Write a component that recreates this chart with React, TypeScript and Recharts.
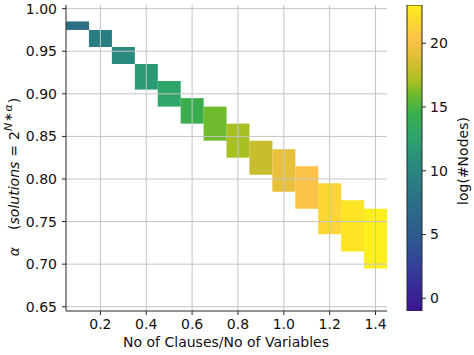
import React from 'react';
import {
  ComposedChart,
  Bar,
  XAxis,
  YAxis,
  Cell,
  ReferenceLine,
} from 'recharts';

// Clause/variable ratio (column centres)
const ratios = [0.1, 0.2, 0.3, 0.4, 0.5, 0.6, 0.7, 0.8, 0.9, 1.0, 1.1, 1.2, 1.3, 1.4];
// alpha range covered in each column
const alphaLow = [0.975, 0.955, 0.935, 0.905, 0.885, 0.865, 0.845, 0.825, 0.805, 0.785, 0.765, 0.735, 0.715, 0.695];
const alphaHigh = [0.985, 0.975, 0.955, 0.935, 0.915, 0.895, 0.885, 0.865, 0.845, 0.835, 0.815, 0.795, 0.775, 0.765];
// log(#Nodes) for each column
const logNodes = [7.5, 9, 10.5, 11.8, 12.8, 14.5, 16, 17, 18, 19.3, 20.3, 21.5, 22.5, 23];

const xTicks = [0.2, 0.4, 0.6, 0.8, 1.0, 1.2, 1.4];
const yTicks = [0.65, 0.7, 0.75, 0.8, 0.85, 0.9, 0.95, 1.0];
const cbTicks = [0, 5, 10, 15, 20];

const CB_MIN = -1;
const CB_MAX = 23;

// colormap stops: [value, colour]
const COLOR_STOPS: [number, string][] = [
  [-1, '#3c1592'],
  [2, '#35399a'],
  [5, '#2d5c8f'],
  [7.5, '#2b6f86'],
  [9, '#2b7d84'],
  [10.5, '#2a8a7e'],
  [11.8, '#2a9a73'],
  [12.8, '#2ea66a'],
  [14.5, '#3aae4e'],
  [16, '#6ebb2e'],
  [17, '#a8c022'],
  [18, '#c8bd2e'],
  [19.3, '#e8c03c'],
  [20.3, '#fcc24a'],
  [21.5, '#fdd535'],
  [22.5, '#fde424'],
  [23, '#fdee1e'],
];

function hexToRgb(h: string) {
  const n = parseInt(h.slice(1), 16);
  return [(n >> 16) & 255, (n >> 8) & 255, n & 255];
}
function colorFor(v: number) {
  if (v <= COLOR_STOPS[0][0]) return COLOR_STOPS[0][1];
  for (let i = 1; i < COLOR_STOPS.length; i++) {
    const [v1, c1] = COLOR_STOPS[i];
    const [v0, c0] = COLOR_STOPS[i - 1];
    if (v <= v1) {
      const t = (v - v0) / (v1 - v0);
      const a = hexToRgb(c0);
      const b = hexToRgb(c1);
      const r = a.map((x, k) => Math.round(x + (b[k] - x) * t));
      return `rgb(${r[0]},${r[1]},${r[2]})`;
    }
  }
  return COLOR_STOPS[COLOR_STOPS.length - 1][1];
}

const data = ratios.map((x, i) => ({
  x,
  range: [alphaLow[i], alphaHigh[i]],
  v: logNodes[i],
}));

const cbData = [{ k: 'cb', range: [CB_MIN, CB_MAX] }];

const FONT = 'DejaVu Sans';
const GRID = '#c4c4c4';
const AXIS = '#262626';

const tickStyle = { fontFamily: FONT, fontSize: 14, fill: '#111' };

const YLabel = () => (
  <text
    x={14}
    y={177}
    transform="rotate(-90, 14, 177)"
    textAnchor="middle"
    dominantBaseline="central"
    fontFamily={FONT}
    fontSize={14}
    fill="#111"
  >
    <tspan fontStyle="italic">α</tspan>
    <tspan dx={17}>(</tspan>
    <tspan fontStyle="italic">solutions</tspan>
    <tspan dx={5}>=</tspan>
    <tspan dx={5}>2</tspan>
    <tspan fontSize={11} fontStyle="italic" dy={-6}>N</tspan>
    <tspan fontSize={11} dx={1}>∗</tspan>
    <tspan fontSize={11} fontStyle="italic" dx={1}>α</tspan>
    <tspan dy={6} dx={1}>)</tspan>
  </text>
);

const XLabel = () => (
  <text x={226} y={347} textAnchor="middle" fontFamily={FONT} fontSize={14} fill="#111">
    No of Clauses/No of Variables
  </text>
);

const MainChart = () => (
  <ComposedChart
    width={400}
    height={355}
    data={data}
    margin={{ top: 5, right: 13, bottom: 0, left: 10 }}
    barCategoryGap={0}
    barGap={0}
  >
    <XAxis
      dataKey="x"
      type="category"
      ticks={xTicks}
      interval={0}
      tickFormatter={(v: number) => Number(v).toFixed(1)}
      height={44}
      tick={tickStyle}
      tickSize={4}
      tickMargin={4}
      stroke={AXIS}
      axisLine={{ stroke: AXIS }}
      tickLine={{ stroke: AXIS }}
      label={<XLabel />}
    />
    <XAxis
      xAxisId="top"
      dataKey="x"
      type="category"
      orientation="top"
      height={0}
      tick={false}
      tickLine={false}
      axisLine={{ stroke: AXIS }}
    />
    <YAxis
      type="number"
      domain={[0.645, 1.0043]}
      allowDataOverflow
      ticks={yTicks}
      interval={0}
      tickFormatter={(v: number) => v.toFixed(2)}
      width={56}
      tick={tickStyle}
      tickSize={4}
      tickMargin={5}
      axisLine={{ stroke: AXIS }}
      tickLine={{ stroke: AXIS }}
      label={<YLabel />}
    />
    <YAxis
      yAxisId="right"
      orientation="right"
      type="number"
      domain={[0.645, 1.0043]}
      width={0}
      tick={false}
      tickLine={false}
      axisLine={{ stroke: AXIS }}
    />
    <Bar dataKey="range" isAnimationActive={false}>
      {data.map((d, i) => (
        <Cell key={i} fill={colorFor(d.v)} />
      ))}
    </Bar>
    {xTicks.map((t) => (
      <ReferenceLine key={'gx' + t} x={t} stroke={GRID} strokeWidth={1} />
    ))}
    {yTicks.map((t) => (
      <ReferenceLine key={'gy' + t} y={t} stroke={GRID} strokeWidth={1} />
    ))}
  </ComposedChart>
);

const CbLabel = () => (
  <text
    x={68}
    y={161}
    transform="rotate(-90, 68, 161)"
    textAnchor="middle"
    dominantBaseline="central"
    fontFamily={FONT}
    fontSize={14}
    fill="#111"
  >
    log(#Nodes)
  </text>
);

const ColorBar = () => (
  <ComposedChart
    width={79}
    height={355}
    data={cbData}
    margin={{ top: 5, right: 0, bottom: 44, left: 12 }}
    barCategoryGap={0}
    barGap={0}
  >
    <defs>
      <linearGradient id="cbGrad" x1="0" y1="0" x2="0" y2="1">
        {COLOR_STOPS.slice()
          .reverse()
          .map(([v, c]) => (
            <stop key={v} offset={(CB_MAX - v) / (CB_MAX - CB_MIN)} stopColor={c} />
          ))}
      </linearGradient>
    </defs>
    <XAxis dataKey="k" type="category" hide />
    <YAxis
      orientation="right"
      type="number"
      domain={[CB_MIN, CB_MAX]}
      allowDataOverflow
      ticks={cbTicks}
      interval={0}
      width={52}
      tick={tickStyle}
      tickSize={4}
      tickMargin={4}
      axisLine={false}
      tickLine={{ stroke: AXIS }}
      label={<CbLabel />}
    />
    <Bar
      dataKey="range"
      isAnimationActive={false}
      fill="url(#cbGrad)"
      stroke={AXIS}
      strokeWidth={1}
    />
  </ComposedChart>
);

export default function App() {
  return (
    <div style={{ position: 'absolute', left: 0, top: 0, width: 474, height: 355, background: '#fff' }}>
      <div style={{ position: 'absolute', left: 0, top: 0 }}>
        <MainChart />
      </div>
      <div style={{ position: 'absolute', left: 395, top: 0 }}>
        <ColorBar />
      </div>
    </div>
  );
}
